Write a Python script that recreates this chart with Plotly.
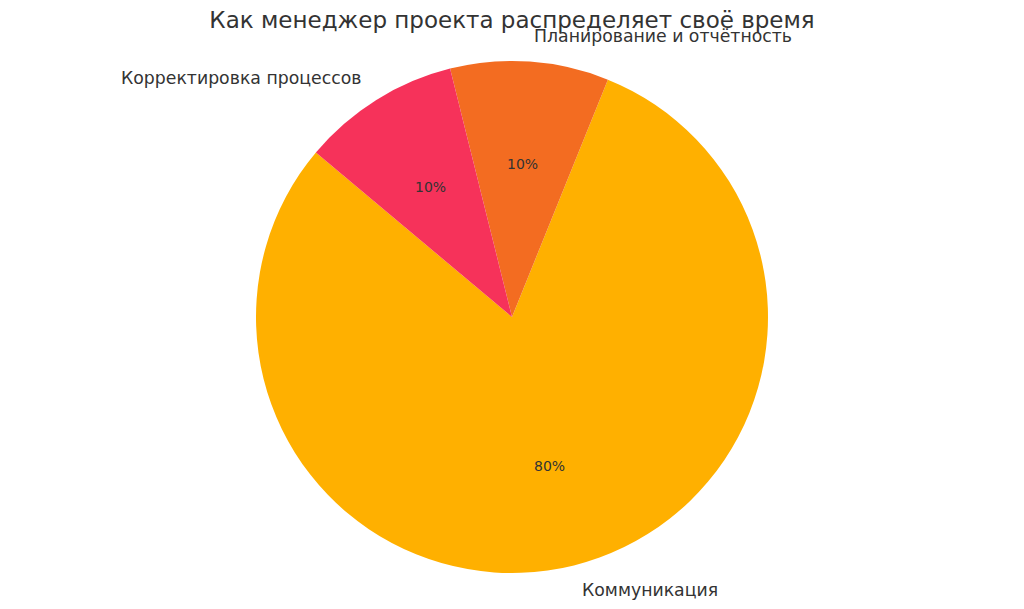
import math

import plotly.graph_objects as go

# Data
CATEGORIES = ["Коммуникация", "Планирование и отчётность", "Корректировка процессов"]
SHARES = [80, 10, 10]
COLORS = ["#FFB000", "#F36C21", "#F6325A"]

TITLE = "Как менеджер проекта распределяет своё время"

W, H = 1024, 609
CX, CY, R = 512, 317, 256  # pie centre and radius in pixels
START_ANGLE = 140  # degrees, counterclockwise from 3 o'clock (matplotlib style)

TEXT_COLOR = "#333333"
FONT = "DejaVu Sans"

total = sum(SHARES)
# plotly's counterclockwise mode puts the end of the first slice at `rotation`
rotation = (90 - START_ANGLE - 360 * SHARES[0] / total) % 360

fig = go.Figure(
    go.Pie(
        labels=CATEGORIES,
        values=SHARES,
        marker=dict(colors=COLORS, line=dict(width=0)),
        sort=False,
        direction="counterclockwise",
        rotation=rotation,
        textinfo="none",
        hoverinfo="label+percent",
        domain=dict(x=[0, 1], y=[(H - (CY + R)) / H, (H - (CY - R)) / H]),
    )
)

# Labels at 1.1r and percentages at 0.6r, placed like matplotlib does
annotations = []
angle = START_ANGLE
for name, val in zip(CATEGORIES, SHARES):
    span = 360 * val / total
    mid = math.radians(angle + span / 2)
    c, s = math.cos(mid), math.sin(mid)
    annotations.append(dict(
        x=(CX + 1.1 * R * c) / W, y=(H - (CY - 1.1 * R * s)) / H,
        xref="paper", yref="paper", text=name, showarrow=False,
        xanchor="left" if c > 0 else "right", yanchor="middle",
        font=dict(family=FONT, size=17.3, color=TEXT_COLOR),
    ))
    annotations.append(dict(
        x=(CX + 0.6 * R * c) / W, y=(H - (CY - 0.6 * R * s)) / H,
        xref="paper", yref="paper", text=f"{val / total * 100:.0f}%", showarrow=False,
        xanchor="center", yanchor="middle",
        font=dict(family=FONT, size=14, color=TEXT_COLOR),
    ))
    angle += span

fig.update_layout(
    title=dict(
        text=TITLE,
        x=0.5, xanchor="center",
        y=(H - 20) / H, yanchor="middle",
        font=dict(family=FONT, size=23, color=TEXT_COLOR),
    ),
    annotations=annotations,
    showlegend=False,
    width=W,
    height=H,
    margin=dict(l=0, r=0, t=0, b=0),
    paper_bgcolor="white",
    plot_bgcolor="white",
)

# drop the browser's default body margin so the figure sits at the top-left corner
fig.write_html(
    "out.html",
    config={"displayModeBar": False},
    post_script="document.body.style.margin = '0';",
)
